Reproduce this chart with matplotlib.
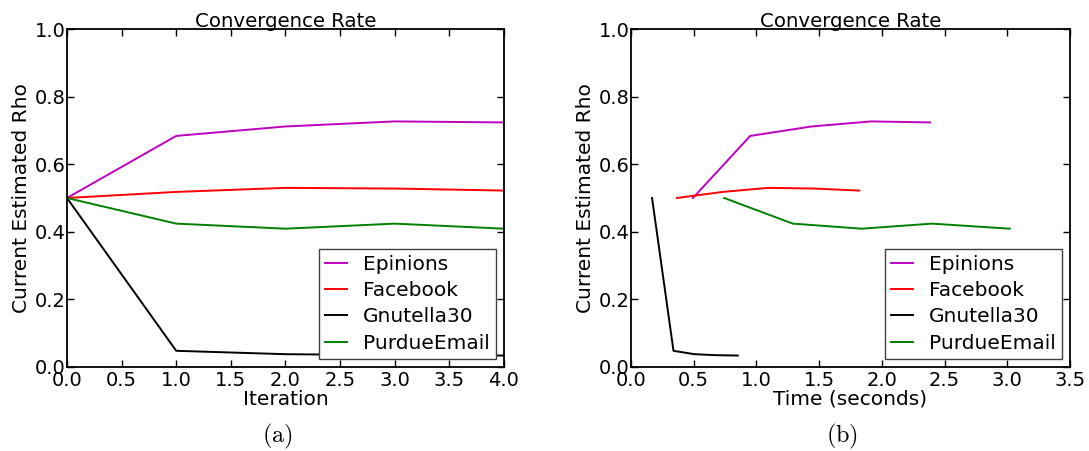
import matplotlib
matplotlib.use("Agg")
import matplotlib.pyplot as plt

# values
names = ["Epinions", "Facebook", "Gnutella30", "PurdueEmail"]
colors = ["m", "r", "k", "g"]

iterations = [0, 1, 2, 3, 4]
epinions_rho = [0.500, 0.684, 0.712, 0.727, 0.724]
facebook_rho = [0.500, 0.518, 0.530, 0.528, 0.522]
gnutella_rho = [0.500, 0.047, 0.037, 0.034, 0.033]
purdue_rho = [0.500, 0.424, 0.409, 0.424, 0.409]

epinions_time = [0.494, 0.951, 1.44, 1.915, 2.386]
facebook_time = [0.367, 0.73, 1.096, 1.46, 1.82]
gnutella_time = [0.168, 0.339, 0.505, 0.68, 0.852]
purdue_time = [0.743, 1.29, 1.84, 2.40, 3.02]

rhos = [epinions_rho, facebook_rho, gnutella_rho, purdue_rho]
times = [epinions_time, facebook_time, gnutella_time, purdue_time]

plt.rcParams["font.family"] = "DejaVu Sans"
plt.rcParams["mathtext.fontset"] = "cm"
plt.rcParams["xtick.direction"] = "in"
plt.rcParams["ytick.direction"] = "in"

fig = plt.figure(figsize=(10.89, 4.51), dpi=100)
ax1 = fig.add_axes([0.0615, 0.187, 0.4013, 0.748])
ax2 = fig.add_axes([0.5794, 0.187, 0.4031, 0.748])


def style(ax, xmax, xlabel):
    ax.set_xlim(0, xmax)
    ax.set_ylim(0, 1.0)
    ax.set_xticks([i * 0.5 for i in range(int(xmax / 0.5) + 1)])
    ax.set_yticks([0.0, 0.2, 0.4, 0.6, 0.8, 1.0])
    ax.xaxis.set_major_formatter(matplotlib.ticker.FormatStrFormatter("%.1f"))
    ax.yaxis.set_major_formatter(matplotlib.ticker.FormatStrFormatter("%.1f"))
    ax.tick_params(axis="both", which="major", top=True, right=True,
                   length=5, width=1, labelsize=14)
    ax.tick_params(axis="x", pad=3)
    ax.tick_params(axis="y", pad=1)
    for s in ax.spines.values():
        s.set_linewidth(1.3)
    ax.set_title("Convergence Rate", fontsize=14.2, pad=2)
    ax.set_xlabel(xlabel, fontsize=14.5, labelpad=0)
    ax.set_ylabel("Current Estimated Rho", fontsize=14.5, labelpad=3)
    leg = ax.legend(loc="lower right", fontsize=14.5, handlelength=1.07,
                    labelspacing=0.36, borderaxespad=0.4, fancybox=False,
                    framealpha=1, borderpad=0.3, handletextpad=0.8)
    leg.get_frame().set_edgecolor("0.25")
    leg.get_frame().set_linewidth(1.0)


for name, c, r in zip(names, colors, rhos):
    ax1.plot(iterations, r, color=c, lw=1.4, label=name)
style(ax1, 4.0, "Iteration")

for name, c, t, r in zip(names, colors, times, rhos):
    ax2.plot(t, r, color=c, lw=1.4, label=name)
style(ax2, 3.5, "Time (seconds)")

fig.text(0.255, 0.032, r"$\mathrm{(a)}$", fontsize=17.5, ha="center", va="center")
fig.text(0.773, 0.032, r"$\mathrm{(b)}$", fontsize=17.5, ha="center", va="center")

fig.savefig("out.png", dpi=100)
